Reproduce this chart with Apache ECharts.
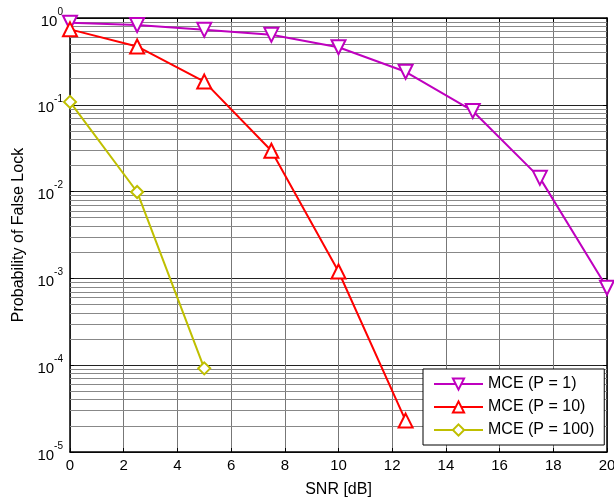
<!DOCTYPE html>
<html>
<head>
<meta charset="utf-8">
<script src="https://cdn.jsdelivr.net/npm/echarts@6/dist/echarts.min.js"></script>
<style>
html,body{margin:0;padding:0;background:#fff;}
#chart{width:614px;height:500px;}
</style>
</head>
<body>
<div id="chart"></div>
<script>
// SNR values (dB)
var snr = [0, 2.5, 5, 7.5, 10, 12.5, 15, 17.5, 20];
// probability of false lock per curve
var pflP1 = [0.88, 0.83, 0.73, 0.64, 0.46, 0.24, 0.085, 0.0144, 0.00078];
var pflP10 = [0.74, 0.47, 0.185, 0.0295, 0.0012, 0.000023];
var pflP100 = [0.108, 0.0099, 0.000092];
var seriesNames = ['MCE (P = 1)', 'MCE (P = 10)', 'MCE (P = 100)'];
var xTicks = [0, 2, 4, 6, 8, 10, 12, 14, 16, 18, 20];
var decades = [-5, -4, -3, -2, -1, 0];

function pairs(ys)
{
    return ys.map(function (y, i) { return [snr[i], y]; });
}

// minor grid lines at 2..9 x 10^k
var minorLines = [];
for (var d = 0; d < decades.length - 1; d++) {
    for (var m = 2; m <= 9; m++) {
        minorLines.push({ yAxis: m * Math.pow(10, decades[d]) });
    }
}

var myChart = echarts.init(document.getElementById('chart'));

var fontName = 'Liberation Sans';
var boxLine = { show: true, onZero: false, lineStyle: { color: '#000', width: 1.5 } };

myChart.setOption({
    animation: false,
    backgroundColor: '#fff',
    textStyle: { fontFamily: fontName },
    grid: { left: 70, right: 7, top: 18, bottom: 48, outerBoundsMode: 'none' },
    legend: {
        data: seriesNames,
        orient: 'vertical',
        left: 423,
        top: 369,
        backgroundColor: '#fff',
        borderColor: '#000',
        borderWidth: 1,
        padding: [7, 10, 7, 10],
        itemWidth: 49,
        itemHeight: 14,
        itemGap: 7,
        textStyle: { fontFamily: fontName, fontSize: 16, color: '#000' }
    },
    xAxis: [
        {
            type: 'value',
            min: 0,
            max: 20,
            interval: 2,
            name: 'SNR [dB]',
            nameLocation: 'middle',
            nameGap: 30,
            nameTextStyle: { fontFamily: fontName, fontSize: 16, color: '#000' },
            axisLine: boxLine,
            axisTick: { show: true, inside: true, length: 4, lineStyle: { color: '#000' } },
            axisLabel: {
                fontFamily: fontName, fontSize: 15, color: '#000', margin: 6,
                customValues: xTicks
            },
            splitLine: { show: true, lineStyle: { color: '#777', width: 1 } }
        },
        {
            type: 'value',
            position: 'top',
            min: 0,
            max: 20,
            interval: 2,
            axisLine: boxLine,
            axisTick: { show: true, inside: true, length: 4, lineStyle: { color: '#000' } },
            axisLabel: { show: false },
            splitLine: { show: false }
        }
    ],
    yAxis: [
        {
            type: 'log',
            logBase: 10,
            min: 1e-5,
            max: 1,
            splitNumber: 5,
            name: 'Probability of False Lock',
            nameLocation: 'middle',
            nameGap: 41,
            nameTextStyle: { fontFamily: fontName, fontSize: 16, color: '#000' },
            axisLine: boxLine,
            axisTick: { show: true, inside: true, length: 4, lineStyle: { color: '#000' } },
            axisLabel: {
                color: '#000',
                margin: 7,
                formatter: function (v)
                {
                    return '{b|10}{s|' + Math.round(Math.log10(v)) + '}';
                },
                rich: {
                    b: { fontFamily: fontName, fontSize: 15, color: '#000', lineHeight: 22, verticalAlign: 'bottom' },
                    s: { fontFamily: fontName, fontSize: 10, color: '#000', lineHeight: 22, verticalAlign: 'top' }
                }
            },
            splitLine: { show: true, lineStyle: { color: '#222', width: 1.2 } }
        },
        {
            type: 'log',
            logBase: 10,
            min: 1e-5,
            max: 1,
            splitNumber: 5,
            position: 'right',
            axisLine: boxLine,
            axisTick: { show: true, inside: true, length: 4, lineStyle: { color: '#000' } },
            axisLabel: { show: false },
            splitLine: { show: false }
        }
    ],
    series: [
        {
            name: seriesNames[0],
            type: 'line',
            data: pairs(pflP1),
            symbol: 'emptyTriangle',
            symbolRotate: 180,
            symbolSize: 14,
            lineStyle: { color: '#bf00bf', width: 2 },
            itemStyle: { color: '#bf00bf', borderColor: '#bf00bf', borderWidth: 2 },
            emphasis: { disabled: true },
            z: 5,
            markLine: {
                silent: true,
                symbol: 'none',
                precision: 12,
                animation: false,
                label: { show: false },
                lineStyle: { color: '#888', width: 1, type: 'solid' },
                emphasis: { disabled: true },
                data: minorLines,
                z: 1
            }
        },
        {
            name: seriesNames[1],
            type: 'line',
            data: pairs(pflP10),
            symbol: 'emptyTriangle',
            symbolSize: 14,
            lineStyle: { color: '#ff0000', width: 2 },
            itemStyle: { color: '#ff0000', borderColor: '#ff0000', borderWidth: 2 },
            emphasis: { disabled: true },
            z: 5
        },
        {
            name: seriesNames[2],
            type: 'line',
            data: pairs(pflP100),
            symbol: 'emptyDiamond',
            symbolSize: 12,
            lineStyle: { color: '#bfbf00', width: 2 },
            itemStyle: { color: '#bfbf00', borderColor: '#bfbf00', borderWidth: 2 },
            emphasis: { disabled: true },
            z: 5
        }
    ]
});
</script>
</body>
</html>
